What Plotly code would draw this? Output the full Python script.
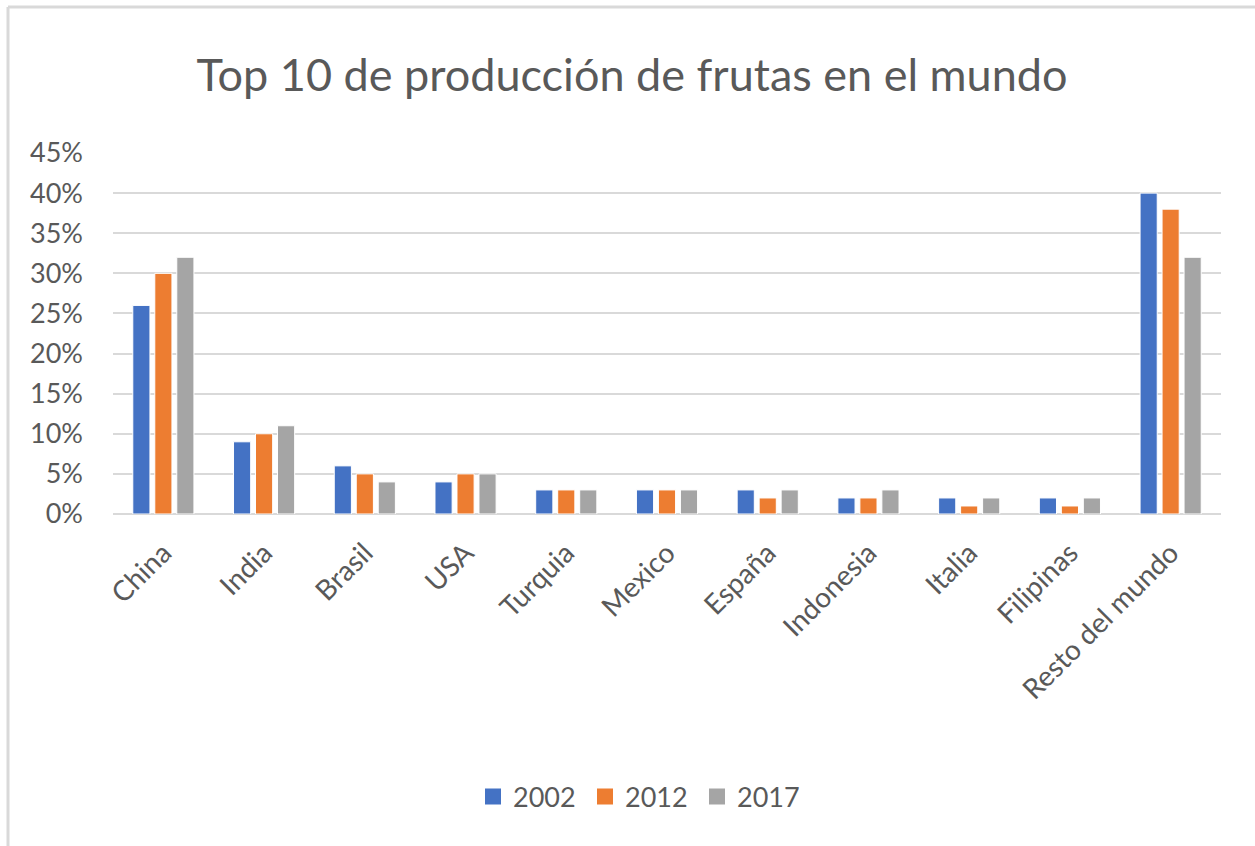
import plotly.graph_objects as go

categories = ["China", "India", "Brasil", "USA", "Turquia", "Mexico", "España",
              "Indonesia", "Italia", "Filipinas", "Resto del mundo"]
v2002 = [0.26, 0.09, 0.06, 0.04, 0.03, 0.03, 0.03, 0.02, 0.02, 0.02, 0.40]
v2012 = [0.30, 0.10, 0.05, 0.05, 0.03, 0.03, 0.02, 0.02, 0.01, 0.01, 0.38]
v2017 = [0.32, 0.11, 0.04, 0.05, 0.03, 0.03, 0.03, 0.03, 0.02, 0.02, 0.32]
series_names = ["2002", "2012", "2017"]
colors = ["#4472C4", "#ED7D31", "#A5A5A5"]

FONT = "Lato"
TXT = "#595959"

fig = go.Figure()
for name, vals, col in zip(series_names, [v2002, v2012, v2017], colors):
    fig.add_trace(go.Bar(x=categories, y=vals, name=name, legendgroup=name,
                         showlegend=False,
                         marker=dict(color=col, line=dict(color="white", width=1))))
# legend entries with larger square swatches
for name, col in zip(series_names, colors):
    fig.add_trace(go.Scatter(x=[None], y=[None], mode="markers", name=name,
                             legendgroup=name,
                             marker=dict(symbol="square", size=17, color=col)))

W, H = 1255, 846
L, R, T, B = 113, 34, 153, 332
pw = W - L - R
ph = H - T - B

fig.update_layout(
    width=W, height=H,
    margin=dict(l=L, r=R, t=T, b=B, autoexpand=False),
    paper_bgcolor="white", plot_bgcolor="white",
    barmode="group", bargap=0.345, bargroupgap=0.22,
    title=dict(text="Top 10 de producción de frutas en el mundo",
               x=632 / W, xanchor="center", y=1 - 75 / H, yanchor="middle",
               font=dict(family=FONT, size=45, color=TXT)),
    font=dict(family=FONT, color=TXT),
    legend=dict(orientation="h", x=(641 - L) / pw, xanchor="center",
                y=(H - 797 - B) / ph, yanchor="middle",
                font=dict(family=FONT, size=27, color=TXT),
                itemsizing="trace", entrywidth=67, entrywidthmode="pixels",
                traceorder="normal"),
    showlegend=True,
)
fig.update_yaxes(range=[0, 0.45], dtick=0.05, tickformat=".0%",
                 showgrid=True, gridcolor="#D9D9D9", gridwidth=2,
                 zeroline=True, zerolinecolor="#D9D9D9", zerolinewidth=2,
                 showline=False, ticks="", ticklabelstandoff=29,
                 tickfont=dict(family=FONT, size=27, color=TXT), fixedrange=True)
fig.update_xaxes(tickangle=-45, showgrid=False, showline=False, ticks="",
                 tickfont=dict(family=FONT, size=28, color=TXT),
                 ticklabelstandoff=16, fixedrange=True)

# outer chart frame (left and top edges visible)
x_left = (8 - L) / pw
y_top = (H - B - 7) / ph
y_bot = (H - B - H - 5) / ph
fig.add_shape(type="line", xref="paper", yref="paper", x0=x_left, x1=(W + 5 - L) / pw,
              y0=y_top, y1=y_top, line=dict(color="#D9D9D9", width=3))
fig.add_shape(type="line", xref="paper", yref="paper", x0=x_left, x1=x_left,
              y0=y_top, y1=y_bot, line=dict(color="#D9D9D9", width=3))

fig.write_html("out.html", config={"displayModeBar": False},
               post_script="document.body.style.margin='0';")
